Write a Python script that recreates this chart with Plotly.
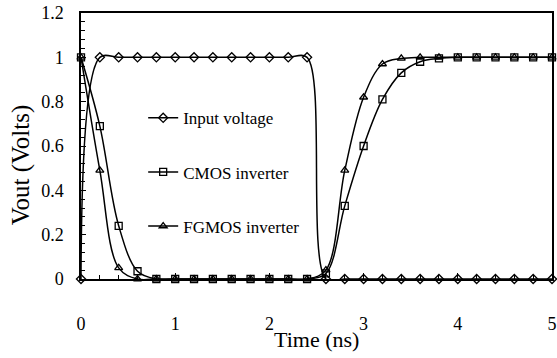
import plotly.graph_objects as go

time_ns = [0, 0.2, 0.4, 0.6, 0.8, 1.0, 1.2, 1.4, 1.6, 1.8, 2.0, 2.2, 2.4,
           2.6, 2.8, 3.0, 3.2, 3.4, 3.6, 3.8, 4.0, 4.2, 4.4, 4.6, 4.8, 5.0]
input_voltage = [0, 1, 1, 1, 1, 1, 1, 1, 1, 1, 1, 1, 1,
                 0, 0, 0, 0, 0, 0, 0, 0, 0, 0, 0, 0, 0]
cmos_inverter = [1, 0.69, 0.24, 0.035, 0, 0, 0, 0, 0, 0, 0, 0, 0,
                 0.025, 0.33, 0.6, 0.81, 0.93, 0.98, 0.995, 1, 1, 1, 1, 1, 1]
fgmos_inverter = [1, 0.49, 0.05, 0, 0, 0, 0, 0, 0, 0, 0, 0, 0,
                  0.04, 0.49, 0.82, 0.97, 0.995, 1, 1, 1, 1, 1, 1, 1, 1]

x_ticks = [0, 1, 2, 3, 4, 5]
y_ticks = [0, 0.2, 0.4, 0.6, 0.8, 1, 1.2]
y_tick_labels = ["0", "0.2", "0.4", "0.6", "0.8", "1", "1.2"]

FONT = "Liberation Serif, Times New Roman, serif"

series = [
    ("Input voltage", input_voltage, "diamond-open"),
    ("CMOS inverter", cmos_inverter, "square-open"),
    ("FGMOS inverter", fgmos_inverter, "triangle-up-open"),
]

fig = go.Figure()
for i, (name, vals, sym) in enumerate(series):
    fig.add_trace(go.Scatter(
        x=time_ns, y=vals, name=name, mode="lines+markers",
        line=dict(color="black", width=1.5, shape="spline", smoothing=1.0),
        marker=dict(symbol=sym, size=7, color="black",
                    line=dict(color="black", width=1.3)),
        legendgroup=f"g{i}",
        cliponaxis=False,
    ))

fig.update_layout(
    width=557, height=358,
    margin=dict(l=81, r=5, t=13, b=79, autoexpand=False),
    paper_bgcolor="white", plot_bgcolor="white",
    font=dict(family=FONT, color="black", size=18),
    showlegend=True,
    legend=dict(
        x=0.132, y=0.672, xanchor="left", yanchor="top",
        bgcolor="rgba(0,0,0,0)", borderwidth=0,
        font=dict(family=FONT, size=17, color="black"),
        tracegroupgap=29, itemwidth=30,
    ),
)

fig.update_xaxes(
    range=[0, 5], tickvals=x_ticks, ticktext=[str(v) for v in x_ticks],
    showline=True, linecolor="black", linewidth=1.5, mirror=True,
    ticks="inside", ticklen=6, tickcolor="black", tickwidth=1,
    minor=dict(dtick=0.2, ticks="inside", ticklen=4, tickcolor="black", tickwidth=1),
    showgrid=False, zeroline=False, automargin=False,
    tickfont=dict(family=FONT, size=18),
    ticklabelstandoff=28,
)
fig.update_yaxes(
    range=[0, 1.2], tickvals=y_ticks, ticktext=y_tick_labels,
    showline=True, linecolor="black", linewidth=1.5, mirror=True,
    ticks="inside", ticklen=5, tickcolor="black", tickwidth=1,
    minor=dict(dtick=0.04, ticks="inside", ticklen=4, tickcolor="black", tickwidth=1),
    showgrid=False, zeroline=False, automargin=False,
    tickfont=dict(family=FONT, size=18),
    ticklabelstandoff=12,
)

fig.add_annotation(
    text="Time (ns)",
    xref="paper", yref="paper", x=0.5, y=-0.226,
    xanchor="center", yanchor="middle", showarrow=False,
    font=dict(family=FONT, size=22, color="black"),
)
fig.add_annotation(
    text="Vout (Volts)", textangle=-90,
    xref="paper", yref="paper", x=-0.128, y=0.43,
    xanchor="center", yanchor="middle", showarrow=False,
    font=dict(family=FONT, size=25, color="black"),
)

fig.write_html(
    "out.html",
    config={"displayModeBar": False},
    post_script="document.body.style.margin='0';document.body.style.overflow='hidden';",
)
